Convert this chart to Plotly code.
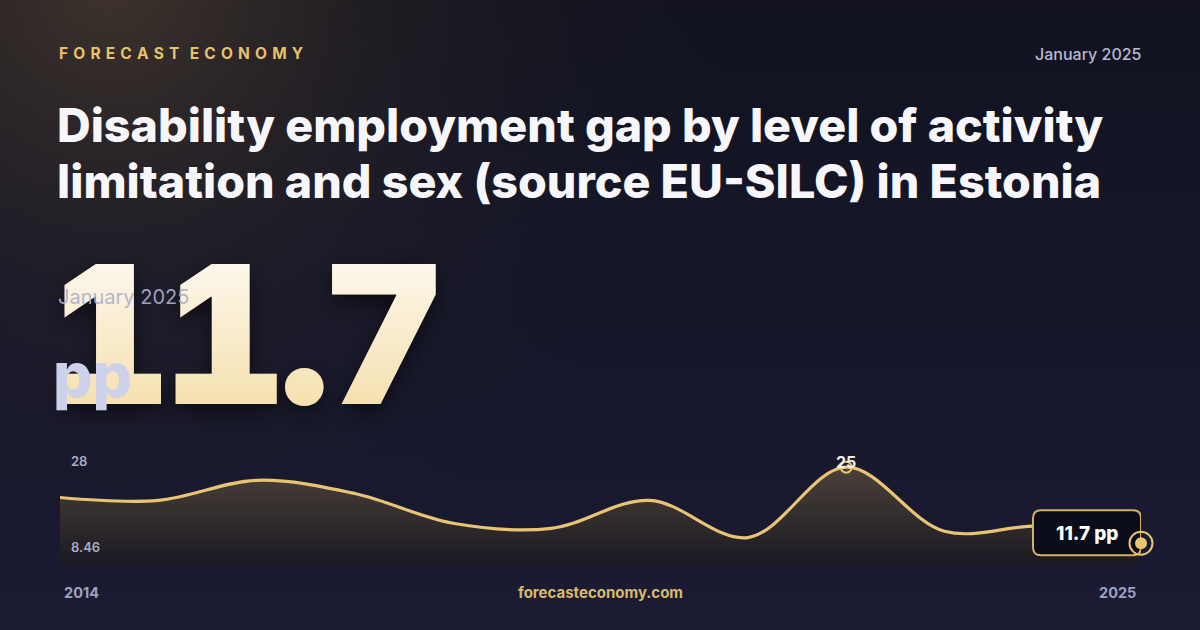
import base64
import plotly.graph_objects as go

# ---------------- data ----------------
years = [2014, 2015, 2016, 2017, 2018, 2019, 2020, 2021, 2022, 2023, 2024, 2025]
values = [19.7, 19.2, 22.7, 20.4, 15.2, 14.3, 19.2, 12.7, 25.0, 13.8, 14.7, 11.7]
y_axis_labels = ["28", "8.46"]
y_axis_values = [28.0, 8.46]
x_axis_labels = ["2014", "2025"]
unit = "pp"
period = "January 2025"
title_lines = ["Disability employment gap by level of activity",
               "limitation and sex (source EU-SILC) in Estonia"]
brand = "FORECAST ECONOMY"
site = "forecasteconomy.com"

W, H = 1200, 630
GOLD = "#E8C474"
FONT = "Inter"

def px(p):
    return p / W

def py(p):
    return 1 - p / H

# ---------------- background (decorative svg) ----------------
svg = f'''<svg xmlns="http://www.w3.org/2000/svg" width="{W}" height="{H}" viewBox="0 0 {W} {H}">
<defs>
<linearGradient id="g" x1="0" y1="0" x2="0" y2="1">
<stop offset="0" stop-color="#12131f"/><stop offset="0.5" stop-color="#15162a"/><stop offset="1" stop-color="#1b1c34"/>
</linearGradient>
<radialGradient id="r" gradientUnits="userSpaceOnUse" cx="110" cy="-20" r="620">
<stop offset="0" stop-color="#5a4833" stop-opacity="0.62"/>
<stop offset="0.45" stop-color="#3c3229" stop-opacity="0.30"/>
<stop offset="1" stop-color="#1a1a28" stop-opacity="0"/>
</radialGradient>
</defs>
<rect width="{W}" height="{H}" fill="url(#g)"/>
<rect width="{W}" height="{H}" fill="url(#r)"/>
</svg>'''
bg_uri = "data:image/svg+xml;base64," + base64.b64encode(svg.encode()).decode()

# ---------------- figure ----------------
fig = go.Figure()

ymin_range, ymax_range = 7.9, 28.0

fig.add_trace(go.Scatter(
    x=years, y=values, mode="lines",
    line=dict(color=GOLD, width=3.2, shape="spline", smoothing=1.0),
    fill="tozeroy",
    fillgradient=dict(type="vertical",
                      colorscale=[[0, "#1a1922"], [1, "#4b4139"]],
                      start=ymin_range, stop=max(values)),
    hoverinfo="skip", showlegend=False, xaxis="x", yaxis="y",
))

# markers on a second (non-overlay) subplot so they sit above the value box
imax = values.index(max(values))
fig.add_trace(go.Scatter(
    x=[years[imax]], y=[values[imax]], mode="markers", cliponaxis=False,
    marker=dict(size=11, color="rgba(0,0,0,0)", line=dict(color=GOLD, width=2)),
    hoverinfo="skip", showlegend=False, xaxis="x2", yaxis="y2",
))
fig.add_trace(go.Scatter(
    x=[years[-1]], y=[values[-1]], mode="markers", cliponaxis=False,
    marker=dict(size=23, color="rgba(0,0,0,0)", line=dict(color=GOLD, width=2)),
    hoverinfo="skip", showlegend=False, xaxis="x2", yaxis="y2",
))
fig.add_trace(go.Scatter(
    x=[years[-1]], y=[values[-1]], mode="markers", cliponaxis=False,
    marker=dict(size=12, color=GOLD, line=dict(width=0)),
    hoverinfo="skip", showlegend=False, xaxis="x2", yaxis="y2",
))

# rounded value box (pixel-sized, anchored to last point)
L, R, T, B, r = -108, 0, 33, -12, 8
box_path = (f"M{L+r},{B} L{R-r},{B} Q{R},{B} {R},{B+r} L{R},{T-r} Q{R},{T} {R-r},{T} "
            f"L{L+r},{T} Q{L},{T} {L},{T-r} L{L},{B+r} Q{L},{B} {L+r},{B} Z")
fig.add_shape(type="path", path=box_path, xref="x2", yref="y2",
              xsizemode="pixel", ysizemode="pixel",
              xanchor=years[-1], yanchor=values[-1],
              fillcolor="#0c0d1b", line=dict(color="#D6AF60", width=2), layer="below")

xdom = [px(60), px(1141)]
ydom = [py(565), py(450)]
axis_common = dict(showgrid=False, zeroline=False, showticklabels=False, showline=False, ticks="")
fig.update_layout(
    width=W, height=H,
    margin=dict(l=0, r=0, t=0, b=0),
    paper_bgcolor="#15162a", plot_bgcolor="rgba(0,0,0,0)",
    xaxis=dict(domain=xdom, range=[years[0], years[-1]], anchor="y", **axis_common),
    yaxis=dict(domain=ydom, range=[ymin_range, ymax_range], anchor="x", **axis_common),
    xaxis2=dict(domain=xdom, range=[years[0], years[-1]], anchor="y2", **axis_common),
    yaxis2=dict(domain=ydom, range=[ymin_range, ymax_range], anchor="x2", **axis_common),
    images=[dict(source=bg_uri, xref="paper", yref="paper", x=0, y=1, sizex=1, sizey=1,
                 sizing="stretch", xanchor="left", yanchor="top", layer="below")],
    showlegend=False,
)

ann = []
def text(x, y, s, size, color, weight=400, xanchor="left", yanchor="middle", **kw):
    ann.append(dict(x=x, y=y, xref="paper", yref="paper", text=s, showarrow=False,
                    xanchor=xanchor, yanchor=yanchor,
                    font=dict(family=FONT, size=size, color=color, weight=weight,
                              **kw.pop("fontkw", {})), **kw))

spaced_brand = "\u2004\u2004".join("\u2004".join(w) for w in brand.split(" "))
text(px(57), py(53), spaced_brand, 15.5, "#E6C26F", 700)
text(px(1144), py(54), period, 16, "#B6B9D4", 500, xanchor="right")
text(px(55), py(125), title_lines[0], 46.6, "#F7F7FB", 800)
text(px(55), py(181), title_lines[1], 46.6, "#F7F7FB", 800)

# hero number with overlays
hero = f"{values[-1]}"
text(px(242), py(334), hero, 192, "#F6E6C2", 900, xanchor="center",
     fontkw=dict(shadow="0px 8px 22px rgba(0,0,0,0.55)"))
text(px(56), py(297), period, 20, "rgba(172,175,205,0.92)", 400)
text(px(51), py(374), unit, 62, "#CDD1EA", 800)

# footer
text(px(62), py(592), x_axis_labels[0], 14.5, "#9EA1C0", 700)
text(px(1138), py(592), x_axis_labels[1], 14.5, "#9EA1C0", 700, xanchor="right")
text(0.5, py(592), site, 15, "#D9B86A", 700, xanchor="center")

# y range labels (in data coords)
ann.append(dict(x=years[0], y=y_axis_values[0], xref="x", yref="y", text=y_axis_labels[0],
                showarrow=False, xanchor="left", yanchor="top", xshift=9, yshift=-1,
                font=dict(family=FONT, size=13, color="#A9ACC6", weight=600)))
ann.append(dict(x=years[0], y=y_axis_values[1], xref="x", yref="y", text=y_axis_labels[1],
                showarrow=False, xanchor="left", yanchor="bottom", xshift=9, yshift=5,
                font=dict(family=FONT, size=13, color="#A9ACC6", weight=600)))
# peak label
ann.append(dict(x=years[imax], y=values[imax], xref="x2", yref="y2",
                text=f"{values[imax]:g}", showarrow=False, xanchor="center", yanchor="middle",
                yshift=5, font=dict(family=FONT, size=16, color="#F2EEE2", weight=700)))
# last value label
ann.append(dict(x=years[-1], y=values[-1], xref="x2", yref="y2",
                text=f"{values[-1]} {unit}", showarrow=False, xanchor="center", yanchor="middle",
                xshift=-54, yshift=10, font=dict(family=FONT, size=19, color="#FFFFFF", weight=800)))

fig.update_layout(annotations=ann)

post = """
document.body.style.margin='0';
document.body.style.overflow='hidden';
var gd=document.getElementById('{plot_id}');
var ns='http://www.w3.org/2000/svg';
var defs=gd.querySelector('svg.main-svg defs');
var lg=document.createElementNS(ns,'linearGradient');
lg.setAttribute('id','heroGrad');lg.setAttribute('x1','0');lg.setAttribute('y1','0');
lg.setAttribute('x2','0');lg.setAttribute('y2','1');
[['0','#FFFFFF'],['1','#F3D99C']].forEach(function(s){var st=document.createElementNS(ns,'stop');
st.setAttribute('offset',s[0]);st.setAttribute('stop-color',s[1]);lg.appendChild(st);});
defs.appendChild(lg);
gd.querySelectorAll('.annotation-text').forEach(function(t){
  if(t.textContent==='HERO'){t.style.fill='url(#heroGrad)';t.style.fontFeatureSettings='"tnum"';
    t.style.letterSpacing='-8px';}
});
""".replace("HERO", hero)
fig.write_html("out.html", post_script=post, config={"displayModeBar": False})
